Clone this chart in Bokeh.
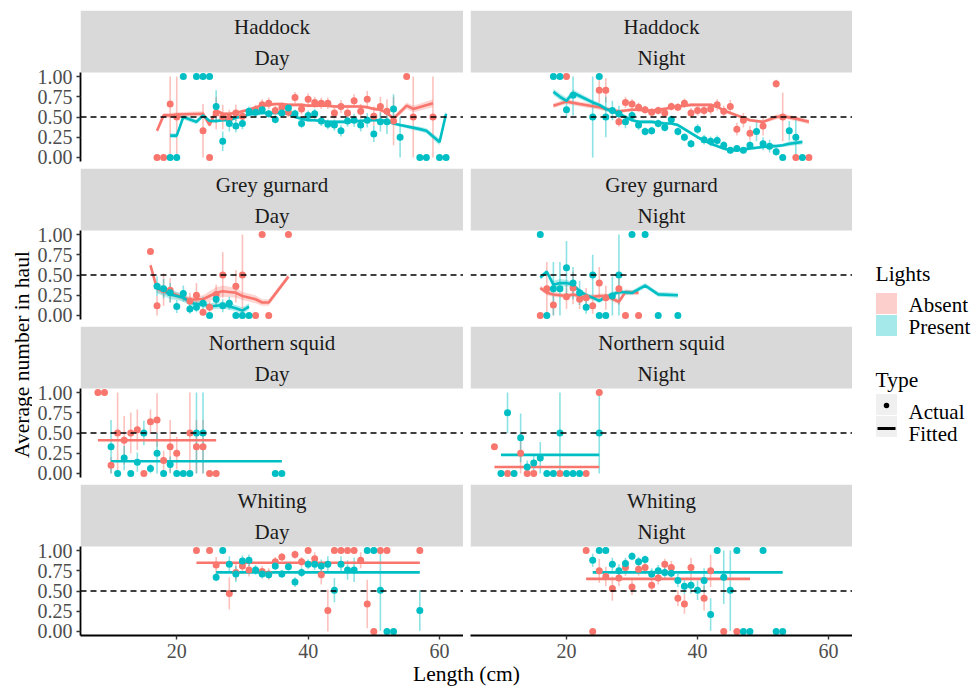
import math
from bokeh.plotting import figure
from bokeh.layouts import row, column
from bokeh.models import Spacer, Range1d, Span, FixedTicker, PrintfTickFormatter, Label, BoxAnnotation
from bokeh.core.properties import value
from bokeh.embed import file_html
from bokeh.resources import INLINE

# ---------------- labels ----------------
SPECIES = ["Haddock", "Grey gurnard", "Northern squid", "Whiting"]
TIMES = ["Day", "Night"]
LIGHTS = ["Absent", "Present"]
TYPES = ["Actual", "Fitted"]
X_TICKS = [20, 40, 60]
Y_TICKS = [0.0, 0.25, 0.5, 0.75, 1.0]
X_TITLE = "Length (cm)"
Y_TITLE = "Average number in haul"
LEGEND_TITLES = ["Lights", "Type"]
REF_LINE = 0.5

# ---------------- Haddock / Day ----------------
HAD_D_A_X = [17, 18, 19, 20, 24, 25, 26, 27, 28, 29, 30, 32, 33, 34, 35, 36, 37, 38, 39, 40, 41, 42, 43, 44, 45, 46, 47, 48, 49, 50, 51, 52, 53, 55, 56, 59]
HAD_D_A_Y = [0, 0, .66, .50, .33, 0, .55, .50, .49, .55, .51, .58, .65, .67, .58, .62, .56, .74, .60, .72, .68, .67, .67, .55, .63, .55, .70, .57, .72, .51, .63, .57, .45, 1, .50, .50]
HAD_D_A_E = [0, 0, .66, .5, .33, 0, .2, .15, .1, .1, .08, .07, .07, .07, .06, .06, .06, .07, .07, .07, .07, .07, .07, .07, .08, .08, .08, .09, .1, .12, .12, .15, .3, 0, .5, .5]
HAD_D_A_FX = [17, 18, 19, 20, 24, 25, 26, 27, 28, 29, 30, 31, 32, 33, 34, 35, 36, 37, 38, 39, 40, 41, 42, 43, 44, 45, 46, 47, 48, 49, 50, 51, 52, 53, 55, 56, 59]
HAD_D_A_FY = [.33, .52, .52, .53, .54, .40, .58, .54, .54, .55, .57, .59, .62, .64, .65, .66, .66, .65, .65, .65, .64, .64, .64, .64, .63, .63, .63, .63, .63, .62, .60, .59, .55, .48, .64, .60, .67]
HAD_D_A_FE = [.03, .03, .03, .03, .03, .03, .02, .02, .02, .02, .02, .02, .02, .02, .02, .02, .02, .02, .02, .02, .02, .02, .02, .02, .02, .02, .02, .02, .02, .02, .02, .02, .025, .03, .04, .04, .05]

HAD_D_P_X = [19, 20, 21, 23, 24, 25, 26, 27, 28, 29, 30, 31, 32, 33, 34, 35, 36, 37, 38, 39, 40, 41, 42, 43, 44, 45, 46, 47, 48, 49, 50, 51, 52, 53, 54, 57, 58, 60, 61]
HAD_D_P_Y = [0, 0, 1, 1, 1, 1, .63, .20, .42, .39, .42, .57, .56, .59, .54, .47, .55, .61, .54, .42, .52, .54, .45, .41, .40, .33, .45, .46, .40, .46, .29, .44, .44, .60, .25, 0, 0, 0, 0]
HAD_D_P_E = [0, 0, 0, 0, 0, 0, .2, .12, .1, .08, .07, .06, .06, .06, .05, .05, .05, .05, .05, .06, .06, .06, .06, .06, .07, .07, .07, .08, .08, .09, .1, .12, .15, .18, .25, 0, 0, 0, 0]
HAD_D_P_FX = [19, 20, 21, 23, 24, 25, 26, 27, 28, 29, 30, 31, 32, 33, 34, 35, 36, 37, 38, 39, 40, 41, 42, 43, 44, 45, 46, 47, 48, 49, 50, 51, 52, 53, 54, 57, 58, 60, 61]
HAD_D_P_FY = [.27, .27, .50, .44, .52, .45, .45, .46, .46, .49, .51, .53, .54, .55, .55, .55, .55, .54, .50, .48, .46, .46, .45, .44, .44, .44, .44, .45, .45, .46, .46, .46, .45, .42, .40, .35, .33, .19, .54]
HAD_D_P_FE = [.03, .03, .03, .03, .03, .02, .02, .02, .02, .02, .02, .02, .02, .02, .02, .02, .02, .02, .02, .02, .02, .02, .02, .02, .02, .02, .02, .02, .02, .02, .02, .02, .02, .02, .02, .03, .03, .04, .04]

# ---------------- Haddock / Night ----------------
HAD_N_A_X = [20, 25, 26, 28, 29, 30, 31, 32, 33, 34, 35, 36, 37, 38, 39, 40, 41, 42, 43, 44, 45, 46, 47, 48, 50, 52, 53, 55, 57]
HAD_N_A_Y = [1, .83, .83, .44, .68, .66, .62, .59, .56, .58, .55, .63, .62, .67, .55, .58, .58, .60, .65, .57, .63, .35, .46, .30, .39, .91, .50, 0, 0]
HAD_N_A_E = [0, .15, .15, .06, .07, .06, .06, .05, .05, .05, .05, .05, .05, .06, .06, .06, .06, .07, .07, .07, .08, .08, .09, .09, .12, .05, .3, 0, 0]
HAD_N_A_FX = [18, 20, 22, 25, 26, 28, 29, 30, 31, 32, 33, 34, 35, 36, 37, 38, 39, 40, 41, 42, 43, 44, 45, 46, 47, 48, 49, 50, 52, 53, 55, 57]
HAD_N_A_FY = [.64, .69, .66, .62, .60, .57, .58, .59, .59, .58, .58, .59, .60, .62, .63, .64, .65, .65, .65, .65, .63, .58, .55, .52, .49, .46, .45, .44, .50, .51, .48, .44]
HAD_N_A_FE = [.03, .03, .03, .03, .03, .02, .02, .02, .02, .02, .02, .02, .02, .02, .02, .02, .02, .02, .02, .02, .02, .02, .02, .02, .02, .02, .02, .02, .03, .03, .03, .03]

HAD_N_P_X = [18, 19, 20, 21, 24, 25, 26, 27, 28, 29, 30, 31, 32, 33, 34, 35, 36, 37, 38, 39, 40, 41, 42, 43, 44, 45, 46, 47, 48, 49, 50, 51, 52, 53, 54, 55, 56]
HAD_N_P_Y = [1, 1, .59, .77, .50, 1, .50, .58, .54, .44, .52, .40, .32, .33, .42, .37, .47, .32, .25, .17, .35, .22, .20, .21, .15, .09, .11, .09, .15, .32, .17, .14, .07, 0, .33, .25, 0]
HAD_N_P_E = [0, 0, .1, .25, .5, 0, .25, .12, .1, .08, .07, .06, .05, .05, .05, .05, .05, .05, .05, .05, .06, .06, .06, .06, .05, .04, .04, .04, .05, .12, .08, .08, .05, 0, .12, .25, 0]
HAD_N_P_FX = [18, 19, 20, 21, 24, 25, 26, 27, 28, 29, 30, 31, 32, 33, 34, 35, 36, 37, 38, 39, 40, 41, 42, 43, 44, 45, 46, 47, 48, 49, 50, 51, 52, 53, 54, 55, 56]
HAD_N_P_FY = [.81, .75, .70, .80, .68, .65, .60, .57, .54, .50, .46, .44, .44, .44, .43, .42, .42, .40, .35, .30, .25, .21, .17, .14, .11, .09, .09, .10, .11, .12, .13, .14, .14, .15, .17, .18, .19]
HAD_N_P_FE = [.04, .04, .04, .04, .03, .03, .03, .02, .02, .02, .02, .02, .02, .02, .02, .02, .02, .02, .02, .02, .02, .02, .02, .02, .02, .02, .02, .02, .02, .02, .02, .02, .02, .02, .03, .03, .03]

# ---------------- Grey gurnard / Day ----------------
GG_D_A_X = [16, 17, 18, 19, 22, 23, 24, 25, 26, 27, 29, 30, 32, 33, 34, 37]
GG_D_A_Y = [.79, .12, .32, .31, .18, .25, .04, .10, .26, .50, .36, .50, 0, 1, 0, 1]
GG_D_A_E = [0, .12, .2, .15, .1, .15, .04, .08, .12, .28, .2, .5, 0, 0, 0, 0]
GG_D_A_FX = [16, 17, 18, 19, 22, 23, 24, 25, 26, 27, 29, 30, 32, 33, 34, 37]
GG_D_A_FY = [.62, .33, .30, .28, .19, .20, .20, .24, .28, .30, .28, .24, .20, .16, .16, .48]
GG_D_A_FE = [.05, .05, .04, .04, .04, .04, .05, .06, .07, .07, .06, .05, .05, .04, .04, .03]

GG_D_P_X = [17, 18, 19, 20, 21, 22, 23, 24, 25, 26, 27, 28, 29, 30, 31]
GG_D_P_Y = [.36, .33, .28, .11, .27, .08, .10, .15, 0, .20, .12, .15, 0, 0, 0]
GG_D_P_E = [.12, .12, .12, .08, .1, .06, .06, .08, 0, .1, .08, .08, 0, 0, 0]
GG_D_P_FX = [17, 18, 19, 20, 21, 22, 23, 24, 25, 26, 27, 28, 29, 30, 31]
GG_D_P_FY = [.34, .30, .26, .24, .22, .16, .14, .14, .11, .12, .13, .11, .09, .06, .11]
GG_D_P_FE = [.07, .06, .06, .05, .05, .04, .04, .04, .04, .04, .04, .04, .04, .04, .04]

# ---------------- Grey gurnard / Night ----------------
GG_N_A_X = [16, 17, 18, 20, 21, 22, 23, 24, 25, 26, 28, 29, 31]
GG_N_A_Y = [0, .33, .13, .23, .34, .20, .22, .12, .40, .22, .33, 0, 0]
GG_N_A_E = [0, .33, .13, .15, .2, .12, .12, .1, .2, .15, .2, 0, 0]
GG_N_A_FX = [16, 17, 18, 20, 21, 22, 23, 24, 25, 26, 28, 29, 31]
GG_N_A_FY = [.34, .28, .26, .24, .26, .24, .22, .23, .24, .24, .17, .29, .28]
GG_N_A_FE = [.03, .03, .03, .03, .03, .03, .03, .03, .03, .03, .03, .03, .03]

GG_N_P_X = [16, 17, 18, 19, 20, 21, 22, 23, 24, 25, 26, 27, 28, 30, 32, 34, 37]
GG_N_P_Y = [1, 0, .33, .33, .59, .40, .28, .10, .50, 0, 0, .24, .50, 1, 1, 0, 0]
GG_N_P_E = [0, 0, .33, .33, .33, .2, .15, .08, .25, 0, 0, .24, .5, 0, 0, 0, 0]
GG_N_P_FX = [16, 17, 18, 19, 20, 21, 22, 23, 24, 25, 26, 27, 28, 30, 32, 34, 37]
GG_N_P_FY = [.47, .54, .38, .40, .40, .38, .30, .25, .22, .18, .23, .26, .29, .28, .37, .26, .25]
GG_N_P_FE = [.03, .03, .05, .05, .04, .03, .03, .03, .03, .03, .03, .03, .03, .03, .03, .03, .03]

# ---------------- Northern squid / Day ----------------
SQ_D_A_X = [8, 9, 10, 11, 12, 13, 14, 15, 16, 17, 18, 19, 20, 22, 23, 24, 25, 26]
SQ_D_A_Y = [1, 1, .10, .50, .41, .50, .54, 0, .64, .66, .16, .33, .25, .50, .33, .33, 0, 0]
SQ_D_A_E = [0, 0, .1, .5, .3, .25, .25, 0, .15, .33, .12, .33, .2, .5, .33, .33, 0, 0]
SQ_D_A_FX = [8, 26]
SQ_D_A_FY = [.41, .41]
SQ_D_A_FE = [0, 0]

SQ_D_P_X = [10, 11, 12, 13, 14, 15, 16, 17, 18, 19, 20, 21, 22, 23, 24, 35, 36]
SQ_D_P_Y = [.33, 0, .19, 0, .14, .50, .06, .25, 0, .11, 0, 0, 0, .50, .50, 0, 0]
SQ_D_P_E = [.33, 0, .15, 0, .12, .15, .06, .25, 0, .1, 0, 0, 0, .5, .5, 0, 0]
SQ_D_P_FX = [10, 36]
SQ_D_P_FY = [.15, .15]
SQ_D_P_FE = [0, 0]

# ---------------- Northern squid / Night ----------------
SQ_N_A_X = [9, 11, 13, 14, 15, 19, 23, 25]
SQ_N_A_Y = [.33, 0, .25, 0, 0, 0, 0, 1]
SQ_N_A_E = [0, 0, .25, 0, 0, 0, 0, 0]
SQ_N_A_FX = [9, 25]
SQ_N_A_FY = [.08, .08]
SQ_N_A_FE = [0, 0]

SQ_N_P_X = [10, 11, 12, 13, 14, 15, 16, 17, 18, 19, 20, 21, 22, 25]
SQ_N_P_Y = [0, .75, 0, .44, .08, .13, .19, 0, 0, .50, 0, 0, 0, .50]
SQ_N_P_E = [0, .25, 0, .3, .08, .1, .2, 0, 0, .5, 0, 0, 0, .5]
SQ_N_P_FX = [10, 25]
SQ_N_P_FY = [.23, .23]
SQ_N_P_FE = [0, 0]

# ---------------- Whiting / Day ----------------
WH_D_A_X = [23, 25, 26, 28, 29, 30, 31, 33, 34, 35, 36, 38, 39, 40, 41, 42, 43, 44, 45, 46, 47, 48, 49, 50, 51, 52, 57]
WH_D_A_Y = [1, 1, .82, .47, .73, .81, .76, .74, .71, .86, .92, .95, .86, 1, .90, .70, .26, 1, 1, 1, 1, .88, .34, 0, 1, 1, 1]
WH_D_A_E = [0, 0, .1, .2, .1, .1, .08, .07, .07, .06, .05, .05, .06, 0, .08, .12, .26, 0, 0, 0, 0, .1, .3, 0, 0, 0, 0]
WH_D_A_FX = [23, 57]
WH_D_A_FY = [.85, .85]
WH_D_A_FE = [0, 0]

WH_D_P_X = [26, 27, 28, 29, 30, 31, 32, 33, 34, 35, 36, 37, 38, 39, 40, 41, 42, 43, 44, 45, 46, 47, 49, 50, 51, 52, 53, 57]
WH_D_P_Y = [.67, 1, .83, .71, .87, .88, .76, .71, .70, .81, .71, .80, .61, .73, .83, .83, .81, .83, .51, .83, .76, .76, 1, 1, .51, 0, 0, .26]
WH_D_P_E = [.05, 0, .1, .1, .07, .07, .06, .06, .05, .05, .05, .05, .06, .06, .06, .07, .08, .1, .15, .1, .12, .15, 0, 0, .5, 0, 0, .25]
WH_D_P_FX = [26, 57]
WH_D_P_FY = [.73, .73]
WH_D_P_FE = [0, 0]

# ---------------- Whiting / Night ----------------
WH_N_A_X = [23, 24, 25, 26, 27, 28, 29, 30, 31, 32, 33, 34, 35, 36, 37, 38, 39, 41, 42, 44, 46]
WH_N_A_Y = [1, 0, .75, .68, .53, .66, .79, .55, .77, .79, .57, .66, .83, .79, .41, .34, .79, .41, .75, 0, 0]
WH_N_A_E = [0, 0, .15, .12, .15, .1, .1, .1, .08, .08, .08, .08, .07, .08, .1, .12, .12, .15, .2, 0, 0]
WH_N_A_FX = [23, 48]
WH_N_A_FY = [.65, .65]
WH_N_A_FE = [0, 0]

WH_N_P_X = [24, 25, 26, 27, 28, 29, 30, 31, 32, 33, 34, 35, 36, 37, 38, 39, 40, 41, 42, 43, 44, 45, 46, 47, 48, 50, 52, 53]
WH_N_P_Y = [.88, 1, 1, .83, .75, .84, .93, .86, .89, .71, .75, .73, .72, .63, .56, .57, .51, .63, .21, 1, .67, .51, 1, 0, 0, 1, 0, 0]
WH_N_P_E = [.08, 0, 0, .08, .08, .07, .05, .06, .05, .07, .07, .07, .07, .08, .1, .1, .12, .15, .2, 0, .33, .5, 0, 0, 0, 0, 0, 0]
WH_N_P_FX = [24, 53]
WH_N_P_FY = [.73, .73]
WH_N_P_FE = [0, 0]

# ---------------- styling ----------------
FONT = "Liberation Serif"
RED = "#F8766D"
CYAN = "#00BFC4"
STRIP_BG = "#D9D9D9"

PANELS = [
    [((HAD_D_A_X, HAD_D_A_Y, HAD_D_A_E, HAD_D_A_FX, HAD_D_A_FY, HAD_D_A_FE),
      (HAD_D_P_X, HAD_D_P_Y, HAD_D_P_E, HAD_D_P_FX, HAD_D_P_FY, HAD_D_P_FE)),
     ((HAD_N_A_X, HAD_N_A_Y, HAD_N_A_E, HAD_N_A_FX, HAD_N_A_FY, HAD_N_A_FE),
      (HAD_N_P_X, HAD_N_P_Y, HAD_N_P_E, HAD_N_P_FX, HAD_N_P_FY, HAD_N_P_FE))],
    [((GG_D_A_X, GG_D_A_Y, GG_D_A_E, GG_D_A_FX, GG_D_A_FY, GG_D_A_FE),
      (GG_D_P_X, GG_D_P_Y, GG_D_P_E, GG_D_P_FX, GG_D_P_FY, GG_D_P_FE)),
     ((GG_N_A_X, GG_N_A_Y, GG_N_A_E, GG_N_A_FX, GG_N_A_FY, GG_N_A_FE),
      (GG_N_P_X, GG_N_P_Y, GG_N_P_E, GG_N_P_FX, GG_N_P_FY, GG_N_P_FE))],
    [((SQ_D_A_X, SQ_D_A_Y, SQ_D_A_E, SQ_D_A_FX, SQ_D_A_FY, SQ_D_A_FE),
      (SQ_D_P_X, SQ_D_P_Y, SQ_D_P_E, SQ_D_P_FX, SQ_D_P_FY, SQ_D_P_FE)),
     ((SQ_N_A_X, SQ_N_A_Y, SQ_N_A_E, SQ_N_A_FX, SQ_N_A_FY, SQ_N_A_FE),
      (SQ_N_P_X, SQ_N_P_Y, SQ_N_P_E, SQ_N_P_FX, SQ_N_P_FY, SQ_N_P_FE))],
    [((WH_D_A_X, WH_D_A_Y, WH_D_A_E, WH_D_A_FX, WH_D_A_FY, WH_D_A_FE),
      (WH_D_P_X, WH_D_P_Y, WH_D_P_E, WH_D_P_FX, WH_D_P_FY, WH_D_P_FE)),
     ((WH_N_A_X, WH_N_A_Y, WH_N_A_E, WH_N_A_FX, WH_N_A_FY, WH_N_A_FE),
      (WH_N_P_X, WH_N_P_Y, WH_N_P_E, WH_N_P_FX, WH_N_P_FY, WH_N_P_FE))],
]

YLAB_W = 32
LEFT_W, RIGHT_W = 383, 382
AXIS_W = 48
STRIP_H, PANEL_H, GAP_V, GAP_H = 62, 89, 7, 7
TOP_PAD = 10
BOTTOM_AX = 27
TOTAL_H = 686
LEG_W = 120
Y_LO, Y_HI = -0.05, 1.05
PPU = PANEL_H / (Y_HI - Y_LO)          # pixels per y unit
Y_TOP = Y_HI + STRIP_H / PPU           # range top including the strip


def clip01(v):
    return max(0.0, min(1.0, v))


def base_fig(**kw):
    p = figure(output_backend="svg", toolbar_location=None, min_border=0, **kw)
    p.outline_line_color = None
    p.background_fill_color = "white"
    p.border_fill_color = "white"
    for g in p.grid:
        g.visible = False
    return p


def make_cell(ri, ci, groups):
    left = ci == 0
    bottom = ri == 3
    p = base_fig(frame_width=LEFT_W if left else RIGHT_W, frame_height=STRIP_H + PANEL_H,
                 x_range=Range1d(5.35, 63.65), y_range=Range1d(Y_LO, Y_TOP),
                 x_axis_location="below" if bottom else None,
                 y_axis_location="left" if left else None)
    if left:
        p.min_border_left = AXIS_W
    p.min_border_bottom = BOTTOM_AX if bottom else GAP_V
    if ri == 0:
        p.min_border_top = TOP_PAD
    for ax in p.axis:
        ax.axis_line_color = "black"
        ax.axis_line_width = 1.8
        ax.major_tick_line_color = "#333333"
        ax.major_tick_line_width = 1.4
        ax.major_tick_in = 0
        ax.minor_tick_line_color = None
        ax.major_label_text_font = FONT
        ax.major_label_text_font_size = "20px"
        ax.major_label_text_color = "#4D4D4D"
    for ax in p.yaxis:
        ax.ticker = FixedTicker(ticks=Y_TICKS)
        ax.formatter = PrintfTickFormatter(format="%.2f")
        ax.bounds = (Y_LO, Y_HI)
        ax.major_tick_out = 4
        ax.major_label_standoff = 4
    for ax in p.xaxis:
        ax.ticker = FixedTicker(ticks=X_TICKS)
        ax.major_tick_out = 4
        ax.major_label_standoff = 4
        ax.major_label_text_line_height = 0.9
        ax.axis_label_standoff = 0

    # facet strip
    p.add_layout(BoxAnnotation(bottom=Y_HI, fill_color=STRIP_BG, fill_alpha=1.0,
                               line_color=None, level="underlay"))
    p.text(x=[34.5, 34.5], y=[Y_HI + 46 / PPU, Y_HI + 15 / PPU], text=[SPECIES[ri], TIMES[ci]],
           text_font=value(FONT), text_font_size="21px", text_align="center",
           text_baseline="middle", text_color="#1A1A1A")

    p.add_layout(Span(location=REF_LINE, dimension="width", line_color="black",
                      line_dash="6 4", line_width=1.4))
    colors = [RED, CYAN]
    for (x, y, e, fx, fy, fe), c in zip(groups, colors):
        p.varea(x=fx, y1=[a - b for a, b in zip(fy, fe)], y2=[a + b for a, b in zip(fy, fe)],
                fill_color=c, fill_alpha=0.3)
    for (x, y, e, fx, fy, fe), c in zip(groups, colors):
        p.segment(x0=x, y0=[clip01(a - b) for a, b in zip(y, e)],
                  x1=x, y1=[clip01(a + b) for a, b in zip(y, e)],
                  line_color=c, line_alpha=0.45, line_width=1.6)
    for (x, y, e, fx, fy, fe), c in zip(groups, colors):
        p.line(fx, fy, line_color=c, line_width=2.6)
    for (x, y, e, fx, fy, fe), c in zip(groups, colors):
        p.scatter(x, y, size=7, fill_color=c, line_color=None)
    return p


cols = []
for ci in range(2):
    cols.append(column(*[make_cell(ri, ci, PANELS[ri][ci]) for ri in range(4)], spacing=0))

grid_w = AXIS_W + LEFT_W + GAP_H + RIGHT_W
grid_h = TOP_PAD + 4 * (STRIP_H + PANEL_H) + 3 * GAP_V + BOTTOM_AX
XLAB_H = TOTAL_H - grid_h

xlab = base_fig(width=grid_w, height=XLAB_H, x_range=Range1d(0, grid_w), y_range=Range1d(0, XLAB_H),
                x_axis_location=None, y_axis_location=None)
xlab.add_layout(Label(x=AXIS_W + (LEFT_W + GAP_H + RIGHT_W) / 2, y=XLAB_H - 11, text=X_TITLE,
                      text_font=FONT, text_font_size="21.5px", text_align="center",
                      text_baseline="alphabetic", text_color="black"))

ylab = base_fig(width=YLAB_W, height=TOTAL_H, x_range=Range1d(0, YLAB_W), y_range=Range1d(0, TOTAL_H),
                x_axis_location=None, y_axis_location=None)
ylab.add_layout(Label(x=21, y=TOTAL_H - 354, text=Y_TITLE, angle=math.pi / 2,
                      text_font=FONT, text_font_size="21.5px", text_align="center",
                      text_baseline="middle", text_color="black"))

# legend panel (y grows downward in this panel)
leg = base_fig(width=LEG_W, height=TOTAL_H, x_range=Range1d(0, LEG_W), y_range=Range1d(TOTAL_H, 0),
               x_axis_location=None, y_axis_location=None)
leg.text(x=[23, 23], y=[273, 379], text=LEGEND_TITLES, text_font=value(FONT),
         text_font_size="21.5px", text_align="left", text_baseline="middle", text_color="black")
leg.rect(x=[34, 34], y=[303, 325], width=22, height=22, fill_color=[RED, CYAN],
         fill_alpha=0.35, line_color="white", line_width=1)
leg.text(x=[56, 56], y=[304, 326], text=LIGHTS, text_font=value(FONT),
         text_font_size="21px", text_align="left", text_baseline="middle", text_color="black")
leg.rect(x=[34, 34], y=[404, 426], width=22, height=22, fill_color="#F0F0F0", line_color="white")
leg.scatter(x=[34], y=[405], size=5.5, fill_color="black", line_color=None)
leg.segment(x0=[25], y0=[428], x1=[43], y1=[428], line_color="black", line_width=3)
leg.text(x=[56, 56], y=[411, 433], text=TYPES, text_font=value(FONT),
         text_font_size="21px", text_align="left", text_baseline="middle", text_color="black")

middle = column(row(cols[0], Spacer(width=GAP_H, height=grid_h), cols[1], spacing=0), xlab, spacing=0)
root = row(ylab, middle, leg, spacing=0)

open("out.html", "w").write(file_html(root, INLINE))
